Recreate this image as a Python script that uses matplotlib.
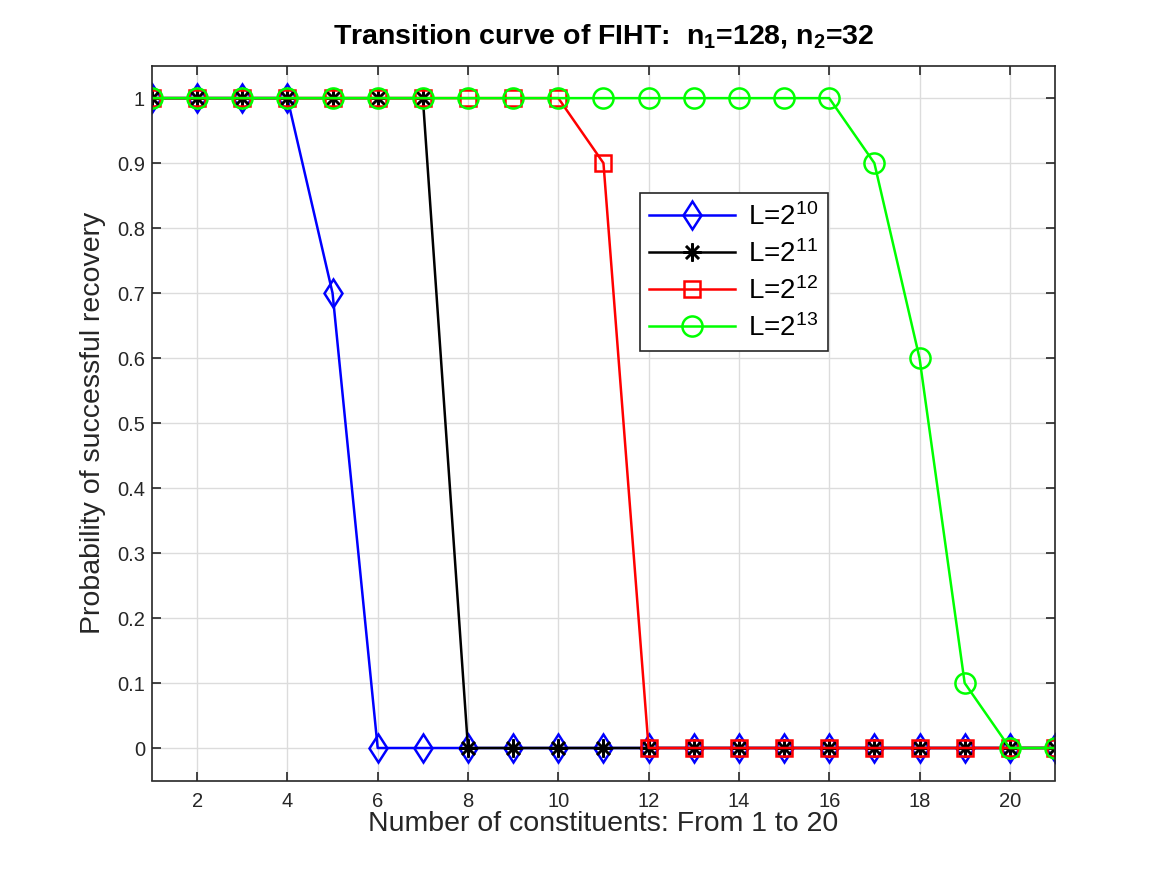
import matplotlib
matplotlib.use("Agg")
import matplotlib.pyplot as plt

plt.rcParams['font.family'] = ['Liberation Sans', 'DejaVu Sans']
plt.rcParams['mathtext.fontset'] = 'custom'
plt.rcParams['mathtext.rm'] = 'Liberation Sans'
plt.rcParams['mathtext.it'] = 'Liberation Sans:italic'
plt.rcParams['mathtext.bf'] = 'Liberation Sans:bold'

# data
x = list(range(1, 22))
p_l10 = [1, 1, 1, 1, 0.7] + [0] * 16
p_l11 = [1] * 7 + [0] * 14
p_l12 = [1] * 10 + [0.9] + [0] * 10
p_l13 = [1] * 16 + [0.9, 0.6, 0.1, 0, 0]

labels = [r'L=2$^{10}$', r'L=2$^{11}$', r'L=2$^{12}$', r'L=2$^{13}$']
xticks = list(range(2, 21, 2))
yticks = [i / 10 for i in range(11)]
yticklabels = ['0'] + [f'{v:.1f}' for v in yticks[1:-1]] + ['1']

fig = plt.figure(figsize=(11.67, 8.75), dpi=100)
ax = fig.add_axes([0.1302, 0.108, 0.7738, 0.817])

ax.plot(x, p_l10, color='#0000ff', lw=1.8, marker='d', ms=14.5,
        mfc='none', mew=1.8, label=labels[0])
ax.plot(x, p_l11, color='black', lw=1.8, marker=(8, 2, 0), ms=13,
        mew=1.8, label=labels[1])
ax.plot(x, p_l12, color='#ff0000', lw=1.8, marker='s', ms=11.5,
        mfc='none', mew=1.8, label=labels[2])
ax.plot(x, p_l13, color='#00ff00', lw=1.8, marker='o', ms=14.5,
        mfc='none', mew=1.8, label=labels[3])

ax.set_xlim(1, 21)
ax.set_ylim(-0.05, 1.05)
ax.set_xticks(xticks)
ax.set_yticks(yticks)
ax.set_yticklabels(yticklabels)
ax.tick_params(direction='in', length=6.5, width=1.2, labelsize=14.5,
               top=True, right=True, colors='#262626', labelcolor='#262626')
ax.tick_params(axis='x', pad=8)
ax.tick_params(axis='y', pad=5)
for s in ax.spines.values():
    s.set_color('#262626')
    s.set_linewidth(1.2)
ax.grid(True, color='#dcdcdc', lw=1)
ax.set_axisbelow(True)

ax.set_xlabel('Number of constituents: From 1 to 20', fontsize=20.5,
              color='#262626', labelpad=0)
ax.set_ylabel('Probability of successful recovery', fontsize=20.5,
              color='#262626', labelpad=8)
ax.set_title(r'Transition curve of FIHT:  n$_\mathbf{1}$=128, n$_\mathbf{2}$=32',
             fontsize=20.5, fontweight='bold', pad=16)

leg = ax.legend(loc='upper left', bbox_to_anchor=(0.540, 0.8217),
                borderaxespad=0, fontsize=20, handlelength=3.1,
                handletextpad=0.45, borderpad=0.35,
                labelspacing=0.33, fancybox=False, framealpha=1,
                edgecolor='#262626')
leg.get_frame().set_linewidth(1.2)

plt.savefig('out.png', dpi=100)
